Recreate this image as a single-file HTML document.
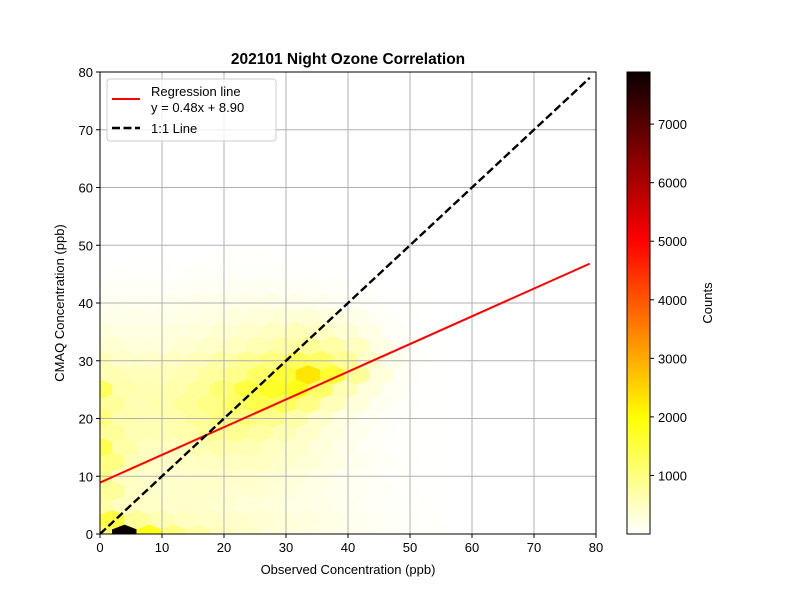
<!DOCTYPE html>
<html><head><meta charset="utf-8"><style>
body{margin:0;background:#fff}
svg{display:block;font-family:"Liberation Sans","DejaVu Sans",sans-serif}
</style></head><body>
<svg id="c" width="800" height="600" xmlns="http://www.w3.org/2000/svg"></svg>
<script>
const title = "202101 Night Ozone Correlation";
const xTicks = [0,10,20,30,40,50,60,70,80];
const yTicks = [0,10,20,30,40,50,60,70,80];
const cbTicks = [1000,2000,3000,4000,5000,6000,7000];
const cbMax = 7890;
const regSlope = 0.48, regIntercept = 8.90;
const lineXMax = 79;
// hexbin counts per row (row 0 at CMAQ=0; odd rows offset by half a column)
const hexRows = [
 [1200,7900,1800,1000,700,500,400,300,250,200,150,100,60,30,20],
 [1500,800,600,500,450,400,350,300,250,200,120,80,40,20],
 [700,500,450,400,400,350,300,280,220,180,120,80,40,20,10],
 [800,450,400,400,400,380,350,300,220,160,100,60,30,10],
 [900,500,400,400,420,420,400,350,280,200,120,70,30,10,5],
 [1000,550,450,450,480,500,480,400,320,220,140,70,30,10],
 [1400,700,500,500,600,650,600,500,400,280,170,80,30,10,5],
 [800,600,600,650,800,850,750,600,420,260,140,60,20,5],
 [1000,650,600,650,800,1000,1000,900,700,420,220,100,40,15,5],
 [800,600,650,800,950,1200,1400,1300,950,550,280,110,40,10],
 [1300,650,600,650,800,1100,1500,1700,1800,1200,600,280,100,30,10],
 [600,550,550,600,750,900,1200,1600,2300,1600,800,280,80,20],
 [550,420,420,480,550,700,850,1000,1300,1200,850,400,160,40,10],
 [350,300,300,350,420,500,600,700,800,700,500,220,80,20],
 [280,230,230,260,300,350,420,480,550,480,350,200,80,25,5],
 [170,170,170,200,230,260,300,320,320,260,170,80,25,5],
 [110,110,110,140,170,170,200,200,170,140,80,40,15,5,0],
 [55,55,65,80,100,110,110,100,80,55,30,15,5,0],
 [25,25,30,35,40,45,45,40,30,20,10,5,0,0,0],
 [10,10,15,15,20,20,20,15,10,5,0,0,0,0]
];
const hexSx = 3.95, hexSy = 5.02;

const NS="http://www.w3.org/2000/svg";
const svg=document.getElementById('c');
const L=100,R=596,T=72,B=534;
const X=v=>L+(v-0)/(80-0)*(R-L);
const Y=v=>B-(v-0)/(80-0)*(B-T);
function el(tag,attrs,parent){const e=document.createElementNS(NS,tag);for(const k in attrs)e.setAttribute(k,attrs[k]);(parent||svg).appendChild(e);return e;}
function hot_r(v){let t=1-Math.max(0,Math.min(1,v/cbMax));
 let r=t<0.365?0.0416+(1-0.0416)*t/0.365:1;
 let g=t<0.365?0:(t<0.746?(t-0.365)/(0.746-0.365):1);
 let b=t<0.746?0:(t-0.746)/(1-0.746);
 return `rgb(${Math.round(r*255)},${Math.round(g*255)},${Math.round(b*255)})`;}

const defs=el('defs',{});
const cp=el('clipPath',{id:'pc'},defs);
el('rect',{x:L,y:T,width:R-L,height:B-T},cp);

const hg=el('g',{'clip-path':'url(#pc)'});


hexRows.forEach((row,r)=>{
 row.forEach((cnt,i)=>{
  if(cnt<=0)return;
  const cx=(r%2?0.5:0)*hexSx+i*hexSx, cy=r*hexSy/2;
  const hw=hexSx/2, hh=hexSy/3, sh=hexSy/6;
  const pts=[[cx+hw,cy-sh],[cx+hw,cy+sh],[cx,cy+hh],[cx-hw,cy+sh],[cx-hw,cy-sh],[cx,cy-hh]]
   .map(p=>X(p[0]).toFixed(2)+','+Y(p[1]).toFixed(2)).join(' ');
  const c=hot_r(cnt);
  const p=el('polygon',{points:pts,fill:c,stroke:c,'stroke-width':0.5},hg);
  
  
 });
});

const grid=el('g',{});


xTicks.forEach(v=>{el('line',{x1:X(v),x2:X(v),y1:T,y2:B,stroke:'#b0b0b0','stroke-width':1},grid);});
yTicks.forEach(v=>{el('line',{x1:L,x2:R,y1:Y(v),y2:Y(v),stroke:'#b0b0b0','stroke-width':1},grid);});

const reg=el('line',{x1:X(0),y1:Y(regIntercept),x2:X(lineXMax),y2:Y(regSlope*lineXMax+regIntercept),stroke:'#ff0000','stroke-width':2,'clip-path':'url(#pc)'});


const one=el('line',{x1:X(0),y1:Y(0),x2:X(lineXMax),y2:Y(lineXMax),stroke:'#000','stroke-width':2.4,'stroke-dasharray':'8,3.5','clip-path':'url(#pc)'});



const fr=el('rect',{x:L,y:T,width:R-L,height:B-T,fill:'none',stroke:'#000','stroke-width':1});



const xa=el('g',{'font-size':'13px',fill:'#000'});


xTicks.forEach(v=>{el('line',{x1:X(v),x2:X(v),y1:B,y2:B+4,stroke:'#000'},xa);
 const t=el('text',{x:X(v),y:B+18,'text-anchor':'middle'},xa);t.textContent=v;});
const ya=el('g',{'font-size':'13px',fill:'#000'});


yTicks.forEach(v=>{el('line',{x1:L-4,x2:L,y1:Y(v),y2:Y(v),stroke:'#000'},ya);
 const t=el('text',{x:L-7,y:Y(v)+5,'text-anchor':'end'},ya);t.textContent=v;});

let t=el('text',{x:348,y:64,'text-anchor':'middle','font-size':'15.5px','font-weight':'bold'});t.textContent=title;

t=el('text',{x:348,y:574,'text-anchor':'middle','font-size':'13px'});t.textContent='Observed Concentration (ppb)';

t=el('text',{x:0,y:0,'text-anchor':'middle','font-size':'13px',transform:'translate(64,303) rotate(-90)'});t.textContent='CMAQ Concentration (ppb)';


const lg=el('g',{});


el('rect',{x:107,y:79,width:169,height:62,rx:3,fill:'#fff','fill-opacity':0.8,stroke:'#ccc'},lg);
el('line',{x1:112,x2:140,y1:99,y2:99,stroke:'#f00','stroke-width':2},lg);
t=el('text',{x:151,y:96,'font-size':'13px'},lg);t.textContent='Regression line';
t=el('text',{x:151,y:112,'font-size':'13px'},lg);t.textContent='y = 0.48x + 8.90';
el('line',{x1:112,x2:140,y1:128,y2:128,stroke:'#000','stroke-width':2.4,'stroke-dasharray':'8,3.5'},lg);
t=el('text',{x:151,y:133,'font-size':'13px'},lg);t.textContent='1:1 Line';

const cb=el('g',{});


const grad=el('linearGradient',{id:'cg',x1:0,y1:1,x2:0,y2:0},defs);
for(let k=0;k<=40;k++){el('stop',{offset:k/40,'stop-color':hot_r(k/40*cbMax)},grad);}
const CL=627,CR=650;
el('rect',{x:CL,y:T,width:CR-CL,height:B-T,fill:'url(#cg)',stroke:'#000','stroke-width':1},cb);
const CY=v=>B-v/cbMax*(B-T);
cbTicks.forEach(v=>{el('line',{x1:CR,x2:CR+4,y1:CY(v),y2:CY(v),stroke:'#000'},cb);
 const tt=el('text',{x:CR+8,y:CY(v)+5,'font-size':'13px'},cb);tt.textContent=v;});
t=el('text',{x:0,y:0,'text-anchor':'middle','font-size':'13px',transform:'translate(712,303) rotate(-90)'},cb);t.textContent='Counts';

</script>
</body></html>
